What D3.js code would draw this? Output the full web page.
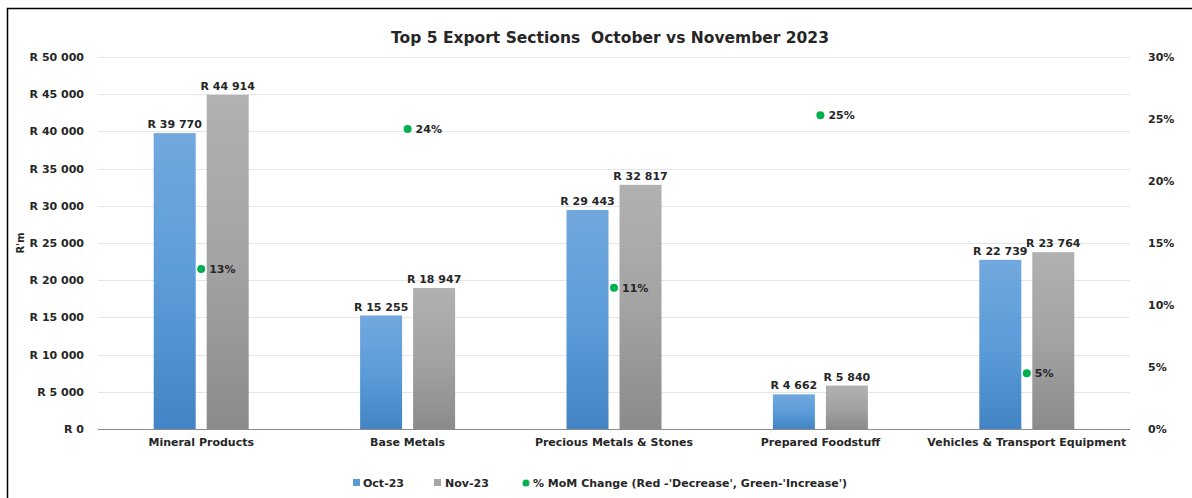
<!DOCTYPE html>
<html>
<head>
<meta charset="utf-8">
<script src="https://cdn.jsdelivr.net/npm/d3@7"></script>
<style>
  html, body { margin: 0; padding: 0; background: #fff; }
  svg { display: block; }
  text { font-family: "DejaVu Sans", Verdana, sans-serif; font-weight: bold; fill: #262626; }
</style>
</head>
<body>
<svg id="chart" width="1192" height="498"></svg>
<script>
const categories = ["Mineral Products", "Base Metals", "Precious Metals & Stones", "Prepared Foodstuff", "Vehicles & Transport Equipment"];
const seriesNames = ["Oct-23", "Nov-23"];
const oct23 = [39770, 15255, 29443, 4662, 22739];
const nov23 = [44914, 18947, 32817, 5840, 23764];
const momChange = [0.129, 0.242, 0.114, 0.253, 0.045];
const leftTicks = [0, 5000, 10000, 15000, 20000, 25000, 30000, 35000, 40000, 45000, 50000];
const rightTicks = [0, 0.05, 0.10, 0.15, 0.20, 0.25, 0.30];
const title = "Top 5 Export Sections  October vs November 2023";
const yTitle = "R'm";
const legendMoM = "% MoM Change (Red -'Decrease', Green-'Increase')";

const svg = d3.select("#chart");
const W = 1192, H = 498;
const m = { left: 98, right: 62, top: 57, bottom: 69 };
const plotW = W - m.left - m.right;
const plotH = H - m.top - m.bottom;

// frame (top & left edges visible)
svg.append("rect").attr("x", 7.5).attr("y", 8.5).attr("width", W + 10).attr("height", H + 10)
  .attr("fill", "none").attr("stroke", "#000").attr("stroke-width", 1.5);

const defs = svg.append("defs");
const gBlue = defs.append("linearGradient").attr("id", "gBlue").attr("x1", 0).attr("y1", 0).attr("x2", 0).attr("y2", 1);
gBlue.append("stop").attr("offset", "0%").attr("stop-color", "#72a8de");
gBlue.append("stop").attr("offset", "50%").attr("stop-color", "#5b9cd9");
gBlue.append("stop").attr("offset", "100%").attr("stop-color", "#4384c4");
const gGray = defs.append("linearGradient").attr("id", "gGray").attr("x1", 0).attr("y1", 0).attr("x2", 0).attr("y2", 1);
gGray.append("stop").attr("offset", "0%").attr("stop-color", "#b1b1b1");
gGray.append("stop").attr("offset", "50%").attr("stop-color", "#a3a3a3");
gGray.append("stop").attr("offset", "100%").attr("stop-color", "#8b8b8b");

const g = svg.append("g").attr("transform", `translate(${m.left},${m.top})`);

const x0 = d3.scaleBand().domain(categories).range([0, plotW]).paddingInner(0).paddingOuter(0);
const y = d3.scaleLinear().domain([0, 50000]).range([plotH, 0]);
const y2 = d3.scaleLinear().domain([0, 0.30]).range([plotH, 0]);

const fmtR = v => "R " + d3.format(",")(v).replace(/,/g, " ");

// gridlines
g.append("g").selectAll("line").data(leftTicks.filter(d => d > 0)).join("line")
  .attr("x1", 0).attr("x2", plotW).attr("y1", d => Math.round(y(d)) + 0.5).attr("y2", d => Math.round(y(d)) + 0.5)
  .attr("stroke", "#e4e6ee").attr("stroke-width", 1.2);

// left axis
const yAxis = d3.axisLeft(y).tickValues(leftTicks).tickFormat(fmtR).tickSize(0).tickPadding(14);
const ya = g.append("g").call(yAxis);
ya.select(".domain").remove();
ya.selectAll("text").style("font-size", "11px").attr("fill", "#262626");

// right axis
const y2Axis = d3.axisRight(y2).tickValues(rightTicks).tickFormat(d3.format(".0%")).tickSize(0).tickPadding(18);
const ya2 = g.append("g").attr("transform", `translate(${plotW},0)`).call(y2Axis);
ya2.select(".domain").remove();
ya2.selectAll("text").style("font-size", "11px").attr("fill", "#262626");

// bars
const barW = 42, gap = 11;
const barData = [];
categories.forEach((c, i) => {
  barData.push({ c, s: 0, v: oct23[i] });
  barData.push({ c, s: 1, v: nov23[i] });
});
const bx = d => x0(d.c) + x0.bandwidth() / 2 + (d.s === 0 ? -(gap / 2 + barW) : gap / 2);
g.append("g").selectAll("rect").data(barData).join("rect")
  .attr("x", bx).attr("width", barW)
  .attr("y", d => y(d.v)).attr("height", d => plotH - y(d.v))
  .attr("fill", d => d.s === 0 ? "url(#gBlue)" : "url(#gGray)");

// x baseline
g.append("line").attr("x1", 0).attr("x2", plotW).attr("y1", plotH + 0.5).attr("y2", plotH + 0.5)
  .attr("stroke", "#8c8c8c").attr("stroke-width", 1);

// bar labels
g.append("g").selectAll("text").data(barData).join("text")
  .attr("x", d => bx(d) + barW / 2).attr("y", d => y(d.v) - 5)
  .attr("text-anchor", "middle").style("font-size", "11px")
  .text(d => fmtR(d.v));

// x axis labels
const xAxis = d3.axisBottom(x0).tickSize(0).tickPadding(9);
const xa = g.append("g").attr("transform", `translate(0,${plotH})`).call(xAxis);
xa.select(".domain").remove();
xa.selectAll("text").style("font-size", "11px").attr("fill", "#262626");

// MoM points
const pts = g.append("g");
pts.selectAll("circle").data(momChange).join("circle")
  .attr("cx", (d, i) => x0(categories[i]) + x0.bandwidth() / 2)
  .attr("cy", d => y2(d)).attr("r", 4)
  .attr("fill", d => d >= 0 ? "#00b050" : "#ff0000");
pts.selectAll("text").data(momChange).join("text")
  .attr("x", (d, i) => x0(categories[i]) + x0.bandwidth() / 2 + 8)
  .attr("y", d => y2(d) + 4).style("font-size", "11px")
  .text(d => d3.format(".0%")(d));

// title
svg.append("text").attr("x", 610).attr("y", 43).attr("text-anchor", "middle")
  .style("font-size", "15.5px").style("white-space", "pre").attr("xml:space", "preserve")
  .attr("fill", "#000").text(title);

// y title
svg.append("text").attr("transform", `translate(24,${m.top + plotH / 2}) rotate(-90)`)
  .attr("text-anchor", "middle").style("font-size", "10px").text(yTitle);

// legend
const lg = svg.append("g").attr("transform", "translate(0,483)");
lg.append("rect").attr("x", 353).attr("y", -4).attr("width", 7).attr("height", 7).attr("fill", "#5b9bd5");
lg.append("text").attr("x", 363).attr("y", 4).style("font-size", "11px").text(seriesNames[0]);
lg.append("rect").attr("x", 434).attr("y", -4).attr("width", 7).attr("height", 7).attr("fill", "#a5a5a5");
lg.append("text").attr("x", 445).attr("y", 4).style("font-size", "11px").text(seriesNames[1]);
lg.append("circle").attr("cx", 526).attr("cy", 0).attr("r", 3.5).attr("fill", "#00b050");
lg.append("text").attr("x", 533).attr("y", 4).style("font-size", "11px").text(legendMoM);
</script>
</body>
</html>
